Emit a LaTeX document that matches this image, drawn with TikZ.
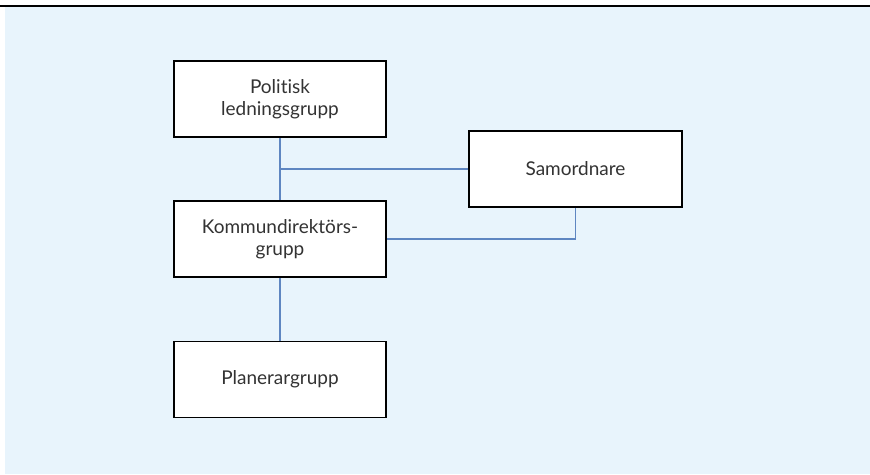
\documentclass[tikz,border=0pt]{standalone}
\usepackage{fontspec}
\setmainfont{Lato}[Ligatures=NoCommon]
\usepackage{tikz}
\usepackage{xcolor}
\usetikzlibrary{calc, positioning}

\definecolor{bgblue}{HTML}{E8F4FC}
\definecolor{linkblue}{HTML}{5E86C1}
\definecolor{textgray}{HTML}{333333}

\tikzset{
    orgbox/.style={draw=black, line width=1.5pt, fill=white, minimum width=212pt, minimum height=76pt,
        align=center, text=textgray, font=\fontsize{19}{21.5}\selectfont},
    link/.style={draw=linkblue, line width=1.1pt}
}

\begin{document}
\begin{tikzpicture}[x=1pt, y=-1pt]
                                \useasboundingbox (0, 0) rectangle (870, 474);
                                \fill[bgblue] (5, 7) rectangle (870, 474);
                                \draw[line width=1.5pt] (0, 6) -- (870, 6);

                                \node[orgbox] (pol) at (280, 99) {Politisk\\ledningsgrupp};
                                \node[orgbox, minimum width=213pt] (sam) at (575.5, 169) {Samordnare};
                                \node[orgbox] (kom) at (280, 239) {Kommundirektörs-\\grupp};
                                \node[orgbox] (plan) at (280, 379.5) {Planerargrupp};

                                \draw[link]
                                (pol.south) -- (kom.north)
                                (sam.west) -- (sam.west -| pol.south)
                                (sam.south) |- (kom.east)
                                (kom.south) -- (plan.north);
                            \end{tikzpicture}
\end{document}
